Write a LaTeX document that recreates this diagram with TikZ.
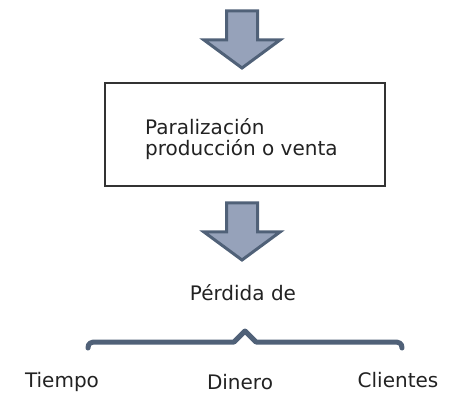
\documentclass[tikz,border=0pt]{standalone}
\usepackage{fontspec}
\setmainfont{DejaVu Sans}
\definecolor{arrowfill}{RGB}{150,162,186}
\definecolor{arrowline}{RGB}{80,97,120}
\definecolor{textgray}{RGB}{34,34,34}
\tikzset{
  bigarrow/.pic={
    \draw[arrowline, fill=arrowfill, line width=3pt, line join=miter]
      (-15.5,0) -- (15.5,0) -- (15.5,29) -- (38,29) -- (0,57)
      -- (-38,29) -- (-15.5,29) -- cycle;
  }
}
\begin{document}
\begin{tikzpicture}[
  x=1pt, y=-1pt,
  label/.style={font=\fontsize{20}{21}\selectfont, text=textgray, inner sep=0pt},
  box/.style={draw=black!80, line width=1.5pt}
]
\useasboundingbox (0,0) rectangle (461,393);
% arrows
\pic at (242,11) {bigarrow};
\pic at (242,203) {bigarrow};
% box
\draw[box] (105,83) rectangle (385,186);
\node[label, align=left, anchor=north west] (cause) at (145,118)
  {Paralización\\producción o venta};
\node[label] (loss) at (243,293) {Pérdida de};
% brace
\draw[arrowline, line width=5pt, line cap=round, line join=round]
  (88,348) .. controls (88,343) and (91,342) .. (96,342) -- (234,342)
  -- (245,331) -- (256,342) -- (394,342)
  .. controls (399,342) and (402,343) .. (402,348);
\node[label, anchor=base] (time) at (62,387) {Tiempo};
\node[label, anchor=base] (money) at (240,389) {Dinero};
\node[label, anchor=base] (clients) at (398,387) {Clientes};
\end{tikzpicture}
\end{document}
